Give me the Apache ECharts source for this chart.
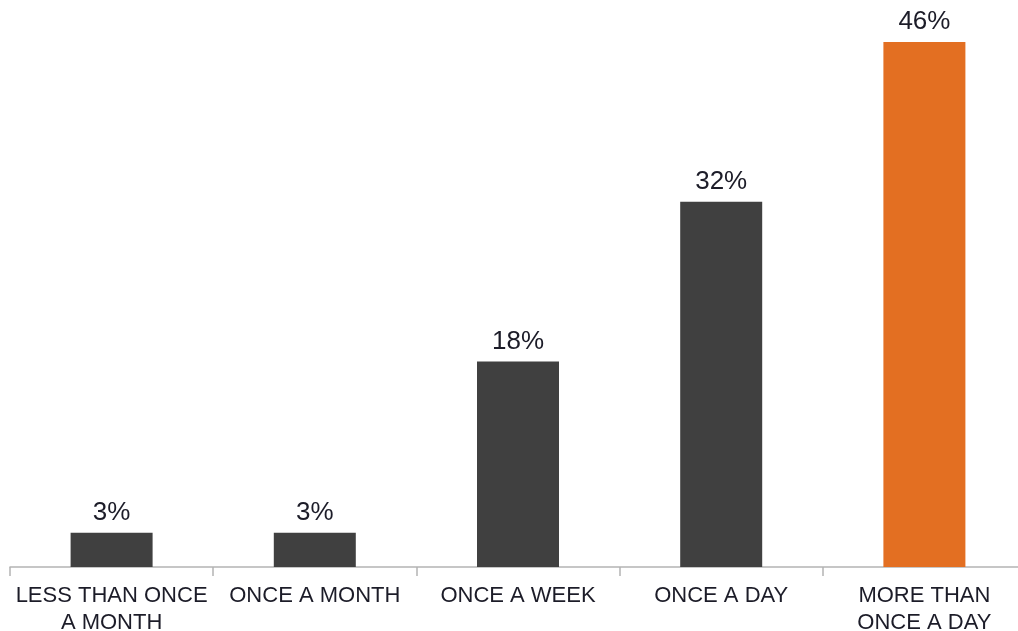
<!DOCTYPE html>
<html>
<head>
<meta charset="utf-8">
<title>Frequency</title>
<script src="https://cdn.jsdelivr.net/npm/echarts@6/dist/echarts.min.js"></script>
<style>
  html, body { margin: 0; padding: 0; background: #fff; }
  #chart { width: 1018px; height: 631px; }
</style>
</head>
<body>
<div id="chart"></div>
<script>
// categories as printed (line breaks where the reference wraps)
const categories = ['LESS THAN ONCE\nA MONTH', 'ONCE A MONTH', 'ONCE A WEEK', 'ONCE A DAY', 'MORE THAN\nONCE A DAY']
const values = [3, 3, 18, 32, 46]
const barColors = ['#404040', '#404040', '#404040', '#404040', '#E36F22']

const chart = echarts.init(document.getElementById('chart'))

chart.setOption({
  animation: false,
  textStyle: { fontFamily: 'Liberation Sans, Arial, sans-serif' },
  grid: {
    top: 42,
    left: 10,
    width: 1016,
    bottom: 64,
    containLabel: false,
    outerBoundsMode: 'none'
  },
  xAxis: [{
    type: 'category',
    data: categories,
    axisLine: { lineStyle: { color: '#b4b4b4', width: 1.5 } },
    axisTick: { show: true, length: 9, lineStyle: { color: '#b4b4b4', width: 1.5 } },
    axisLabel: {
      interval: 0,
      margin: 15,
      fontSize: 22,
      lineHeight: 27,
      color: '#1c1c28'
    }
  }],
  yAxis: [{
    type: 'value',
    min: 0,
    max: 46,
    show: false,
    splitLine: { show: false }
  }],
  series: [{
    type: 'bar',
    barWidth: 82,
    data: values.map((v, i) => ({ value: v, itemStyle: { color: barColors[i] } })),
    label: {
      show: true,
      position: 'top',
      distance: 7,
      fontSize: 26,
      color: '#1c1c28',
      formatter: '{c}%'
    }
  }]
})
</script>
</body>
</html>
